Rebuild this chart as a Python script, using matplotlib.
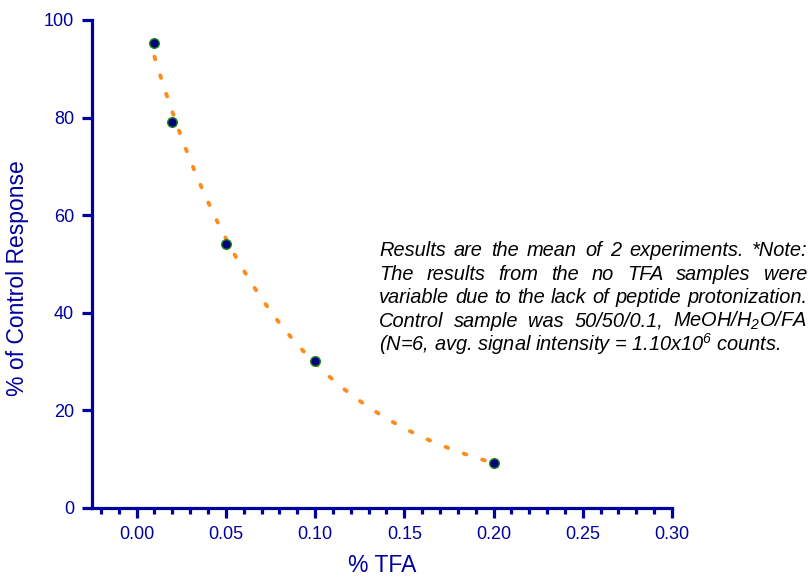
import numpy as np
import matplotlib
matplotlib.use("Agg")
import matplotlib.pyplot as plt
from matplotlib.ticker import MultipleLocator

plt.rcParams['font.family'] = ['Liberation Sans', 'DejaVu Sans']
plt.rcParams['mathtext.fontset'] = 'custom'
plt.rcParams['mathtext.rm'] = 'Liberation Sans:italic'
plt.rcParams['mathtext.it'] = 'Liberation Sans:italic'

tfa = [0.01, 0.02, 0.05, 0.10, 0.20]
response = [95.2, 79.2, 54.2, 30.2, 9.2]

note_lines = [
    "Results are the mean of 2 experiments. *Note:",
    "The results from the no TFA samples were",
    "variable due to the lack of peptide protonization.",
    "Control sample was 50/50/0.1, MeOH/H$_2$O/FA",
    "(N=6, avg. signal intensity = 1.10x10$^6$ counts.",
]

navy = '#0000a0'
W, H = 812, 580
fig = plt.figure(figsize=(W / 100, H / 100), dpi=100)
ax = fig.add_axes([92 / W, (H - 508) / H, 580 / W, 488 / H])

# smooth fit through the points (quadratic in log response)
coef = np.polyfit(tfa, np.log(response), 2)
xf = np.linspace(min(tfa), max(tfa), 300)
yf = np.exp(np.polyval(coef, xf))
ax.plot(xf, yf, color='#ff8c1a', lw=2.8, linestyle=(0, (0.7, 4.3)),
        dash_capstyle='round', zorder=2)
ax.scatter(tfa, response, s=48, color='#000080', edgecolors='#1a8a1a',
           linewidths=1.0, zorder=3)

ax.set_xlim(-0.025, 0.30)
ax.set_ylim(0, 100)
ax.xaxis.set_minor_locator(MultipleLocator(0.01))
ax.set_xticks(np.arange(0, 0.301, 0.05))
ax.set_xticklabels([f"{v:.2f}" for v in np.arange(0, 0.301, 0.05)])
ax.set_yticks([0, 20, 40, 60, 80, 100])

for s in ['top', 'right']:
    ax.spines[s].set_visible(False)
for s in ['left', 'bottom']:
    ax.spines[s].set_color(navy)
    ax.spines[s].set_linewidth(2.3)

ax.tick_params(which='major', direction='out', length=7, width=2.3,
               color=navy, labelcolor=navy, labelsize=13, pad=6)
ax.tick_params(axis='x', which='minor', direction='out', length=4.5,
               width=2.3, color=navy)
ax.tick_params(axis='y', which='minor', length=0)

ax.set_xlabel("% TFA", color=navy, fontsize=16.5)
ax.set_ylabel("% of Control Response", color=navy, fontsize=16.5)
ax.xaxis.set_label_coords(0.5, -0.094)
ax.yaxis.set_label_coords(-0.108, 0.471)

# justified note text
fig.canvas.draw()
r = fig.canvas.get_renderer()
left, right = 379, 807
base0, step = 256, 23.6

# pick the font size so the widest line fills the block
probe = fig.text(0, 0, note_lines[0], fontsize=10, style='italic')
w10 = max(probe.set_text(l) or probe.get_window_extent(renderer=r).width
          for l in note_lines[:4])
probe.remove()
fs = 10 * (right - left) / w10 * 0.995

for i, line in enumerate(note_lines):
    yb = 1 - (base0 + i * step) / H
    words = line.split(' ')
    if i == len(note_lines) - 1:
        fig.text(left / W, yb, line, fontsize=fs, style='italic',
                 va='baseline', ha='left')
        continue
    objs = [fig.text(0, yb, w, fontsize=fs, style='italic', va='baseline',
                     ha='left') for w in words]
    widths = [o.get_window_extent(renderer=r).width for o in objs]
    gap = (right - left - sum(widths)) / (len(words) - 1)
    x = left
    for o, w in zip(objs, widths):
        o.set_x(x / W)
        x += w + gap

fig.savefig("out.png", dpi=100)
